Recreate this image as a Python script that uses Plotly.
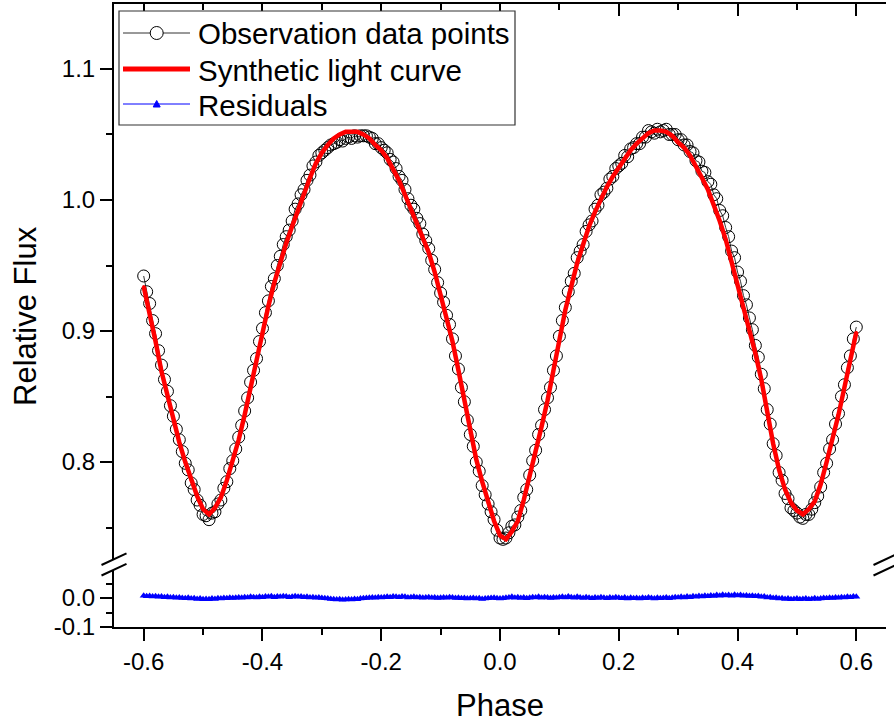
import plotly.graph_objects as go

# ---------------- data ----------------
synth_phase = [
    -0.60, -0.59, -0.58, -0.57, -0.56, -0.55, -0.54, -0.53, -0.52, -0.51,
    -0.50, -0.49, -0.48, -0.47, -0.46, -0.45, -0.44, -0.43, -0.42, -0.41,
    -0.40, -0.39, -0.38, -0.37, -0.36, -0.35, -0.34, -0.33, -0.32, -0.31,
    -0.30, -0.29, -0.28, -0.27, -0.26, -0.25, -0.24, -0.23, -0.22, -0.21,
    -0.20, -0.19, -0.18, -0.17, -0.16, -0.15, -0.14, -0.13, -0.12, -0.11,
    -0.10, -0.09, -0.08, -0.07, -0.06, -0.05, -0.04, -0.03, -0.02, -0.01,
    0.00, 0.01, 0.02, 0.03, 0.04, 0.05, 0.06, 0.07, 0.08, 0.09,
    0.10, 0.11, 0.12, 0.13, 0.14, 0.15, 0.16, 0.17, 0.18, 0.19,
    0.20, 0.21, 0.22, 0.23, 0.24, 0.25, 0.26, 0.27, 0.28, 0.29,
    0.30, 0.31, 0.32, 0.33, 0.34, 0.35, 0.36, 0.37, 0.38, 0.39,
    0.40, 0.41, 0.42, 0.43, 0.44, 0.45, 0.46, 0.47, 0.48, 0.49,
    0.50, 0.51, 0.52, 0.53, 0.54, 0.55, 0.56, 0.57, 0.58, 0.59,
    0.60,
]
synth_flux = [
    0.934, 0.914, 0.892, 0.869, 0.850, 0.832, 0.815, 0.800, 0.786, 0.774,
    0.764, 0.760, 0.765, 0.773, 0.786, 0.801, 0.817, 0.836, 0.857, 0.877,
    0.899, 0.919, 0.937, 0.953, 0.967, 0.980, 0.993, 1.005, 1.017, 1.028,
    1.036, 1.042, 1.047, 1.050, 1.052, 1.052, 1.052, 1.050, 1.047, 1.042,
    1.038, 1.032, 1.024, 1.015, 1.004, 0.993, 0.984, 0.973, 0.960, 0.945,
    0.928, 0.911, 0.892, 0.870, 0.846, 0.822, 0.802, 0.785, 0.769, 0.755,
    0.744, 0.741, 0.747, 0.755, 0.771, 0.789, 0.807, 0.827, 0.847, 0.868,
    0.893, 0.916, 0.935, 0.952, 0.966, 0.980, 0.991, 1.001, 1.010, 1.018,
    1.025, 1.032, 1.038, 1.043, 1.047, 1.051, 1.053, 1.053, 1.052, 1.049,
    1.044, 1.040, 1.034, 1.026, 1.017, 1.008, 0.997, 0.984, 0.970, 0.953,
    0.936, 0.919, 0.903, 0.883, 0.863, 0.838, 0.814, 0.794, 0.779, 0.769,
    0.763, 0.760, 0.764, 0.770, 0.783, 0.800, 0.817, 0.836, 0.857, 0.878,
    0.899,
]

obs_phase = [
    -0.600, -0.595, -0.590, -0.585, -0.580, -0.575, -0.570, -0.565, -0.560, -0.555,
    -0.550, -0.545, -0.540, -0.535, -0.530, -0.525, -0.520, -0.515, -0.510, -0.505,
    -0.500, -0.495, -0.490, -0.485, -0.480, -0.475, -0.470, -0.465, -0.460, -0.455,
    -0.450, -0.445, -0.440, -0.435, -0.430, -0.425, -0.420, -0.415, -0.410, -0.405,
    -0.400, -0.395, -0.390, -0.385, -0.380, -0.375, -0.370, -0.365, -0.360, -0.355,
    -0.350, -0.345, -0.340, -0.335, -0.330, -0.325, -0.320, -0.315, -0.310, -0.305,
    -0.300, -0.295, -0.290, -0.285, -0.280, -0.275, -0.270, -0.265, -0.260, -0.255,
    -0.250, -0.245, -0.240, -0.235, -0.230, -0.225, -0.220, -0.215, -0.210, -0.205,
    -0.200, -0.195, -0.190, -0.185, -0.180, -0.175, -0.170, -0.165, -0.160, -0.155,
    -0.150, -0.145, -0.140, -0.135, -0.130, -0.125, -0.120, -0.115, -0.110, -0.105,
    -0.100, -0.095, -0.090, -0.085, -0.080, -0.075, -0.070, -0.065, -0.060, -0.055,
    -0.050, -0.045, -0.040, -0.035, -0.030, -0.025, -0.020, -0.015, -0.010, -0.005,
    0.000, 0.005, 0.010, 0.015, 0.020, 0.025, 0.030, 0.035, 0.040, 0.045,
    0.050, 0.055, 0.060, 0.065, 0.070, 0.075, 0.080, 0.085, 0.090, 0.095,
    0.100, 0.105, 0.110, 0.115, 0.120, 0.125, 0.130, 0.135, 0.140, 0.145,
    0.150, 0.155, 0.160, 0.165, 0.170, 0.175, 0.180, 0.185, 0.190, 0.195,
    0.200, 0.205, 0.210, 0.215, 0.220, 0.225, 0.230, 0.235, 0.240, 0.245,
    0.250, 0.255, 0.260, 0.265, 0.270, 0.275, 0.280, 0.285, 0.290, 0.295,
    0.300, 0.305, 0.310, 0.315, 0.320, 0.325, 0.330, 0.335, 0.340, 0.345,
    0.350, 0.355, 0.360, 0.365, 0.370, 0.375, 0.380, 0.385, 0.390, 0.395,
    0.400, 0.405, 0.410, 0.415, 0.420, 0.425, 0.430, 0.435, 0.440, 0.445,
    0.450, 0.455, 0.460, 0.465, 0.470, 0.475, 0.480, 0.485, 0.490, 0.495,
    0.500, 0.505, 0.510, 0.515, 0.520, 0.525, 0.530, 0.535, 0.540, 0.545,
    0.550, 0.555, 0.560, 0.565, 0.570, 0.575, 0.580, 0.585, 0.590, 0.595,
    0.600,
]
obs_flux = [
    0.942, 0.930, 0.921, 0.908, 0.898, 0.885, 0.874, 0.863, 0.854, 0.843,
    0.835, 0.825, 0.817, 0.808, 0.799, 0.794, 0.784, 0.779, 0.771, 0.767,
    0.760, 0.759, 0.756, 0.761, 0.762, 0.768, 0.771, 0.780, 0.785, 0.795,
    0.801, 0.810, 0.819, 0.828, 0.839, 0.849, 0.861, 0.870, 0.879, 0.892,
    0.902, 0.914, 0.923, 0.934, 0.940, 0.950, 0.957, 0.966, 0.972, 0.977,
    0.984, 0.993, 0.997, 1.004, 1.008, 1.015, 1.019, 1.026, 1.029, 1.034,
    1.036, 1.038, 1.040, 1.042, 1.043, 1.044, 1.046, 1.045, 1.047, 1.048,
    1.047, 1.049, 1.048, 1.049, 1.049, 1.049, 1.048, 1.047, 1.043, 1.043,
    1.040, 1.038, 1.036, 1.031, 1.029, 1.024, 1.018, 1.015, 1.008, 1.001,
    0.996, 0.993, 0.986, 0.982, 0.974, 0.969, 0.963, 0.954, 0.947, 0.937,
    0.929, 0.922, 0.912, 0.905, 0.894, 0.881, 0.871, 0.857, 0.846, 0.832,
    0.821, 0.812, 0.800, 0.793, 0.782, 0.775, 0.768, 0.762, 0.756, 0.748,
    0.742, 0.741, 0.742, 0.746, 0.751, 0.752, 0.758, 0.763, 0.773, 0.779,
    0.790, 0.801, 0.809, 0.821, 0.828, 0.840, 0.849, 0.857, 0.870, 0.881,
    0.896, 0.908, 0.918, 0.930, 0.938, 0.944, 0.956, 0.961, 0.966, 0.976,
    0.981, 0.984, 0.993, 0.996, 1.004, 1.006, 1.009, 1.016, 1.018, 1.024,
    1.026, 1.028, 1.034, 1.033, 1.039, 1.040, 1.043, 1.043, 1.048, 1.048,
    1.053, 1.052, 1.051, 1.054, 1.052, 1.053, 1.054, 1.050, 1.050, 1.050,
    1.046, 1.046, 1.042, 1.042, 1.037, 1.036, 1.030, 1.029, 1.022, 1.021,
    1.014, 1.012, 1.004, 1.001, 0.992, 0.988, 0.979, 0.972, 0.961, 0.956,
    0.945, 0.938, 0.927, 0.920, 0.910, 0.901, 0.889, 0.880, 0.867, 0.856,
    0.840, 0.829, 0.814, 0.805, 0.792, 0.786, 0.776, 0.772, 0.765, 0.763,
    0.761, 0.758, 0.757, 0.760, 0.760, 0.764, 0.769, 0.774, 0.781, 0.792,
    0.799, 0.810, 0.817, 0.829, 0.837, 0.850, 0.859, 0.872, 0.881, 0.894,
    0.903,
]
residuals = [
    0.008, 0.006, 0.007, 0.005, 0.006, 0.004, 0.005, 0.003, 0.004, 0.002,
    0.003, 0.001, 0.002, 0.000, -0.001, 0.001, -0.002, -0.001, -0.003, -0.002,
    -0.004, -0.003, -0.004, -0.002, -0.003, -0.001, -0.002, 0.000, -0.001, 0.001,
    0.000, 0.001, 0.002, 0.001, 0.003, 0.002, 0.004, 0.003, 0.002, 0.004,
    0.003, 0.005, 0.004, 0.006, 0.003, 0.005, 0.004, 0.006, 0.005, 0.003,
    0.004, 0.006, 0.004, 0.005, 0.003, 0.004, 0.002, 0.003, 0.001, 0.002,
    0.000, -0.001, -0.002, -0.003, -0.004, -0.005, -0.004, -0.006, -0.005, -0.004,
    -0.005, -0.003, -0.004, -0.002, -0.001, 0.000, 0.001, 0.002, 0.001, 0.003,
    0.002, 0.003, 0.004, 0.003, 0.005, 0.004, 0.003, 0.005, 0.004, 0.002,
    0.003, 0.004, 0.002, 0.003, 0.001, 0.002, 0.003, 0.001, 0.002, 0.000,
    0.001, 0.002, 0.001, 0.003, 0.002, 0.000, 0.001, -0.001, 0.000, -0.002,
    -0.001, 0.000, -0.002, -0.001, -0.003, -0.002, -0.001, 0.000, 0.001, -0.001,
    -0.002, -0.001, 0.001, 0.002, 0.004, 0.001, 0.003, 0.000, 0.002, -0.001,
    0.001, 0.003, 0.002, 0.004, 0.001, 0.003, 0.002, 0.000, 0.002, 0.001,
    0.003, 0.004, 0.002, 0.005, 0.003, 0.001, 0.004, 0.002, 0.000, 0.003,
    0.001, -0.001, 0.002, 0.000, 0.003, 0.001, -0.001, 0.002, 0.000, 0.003,
    0.001, -0.001, 0.002, -0.002, 0.001, -0.001, 0.000, -0.002, 0.001, -0.001,
    0.002, 0.000, -0.002, 0.001, -0.001, 0.000, 0.002, -0.001, 0.001, 0.003,
    0.002, 0.004, 0.002, 0.005, 0.003, 0.006, 0.004, 0.007, 0.005, 0.008,
    0.006, 0.009, 0.007, 0.010, 0.008, 0.011, 0.009, 0.010, 0.008, 0.011,
    0.009, 0.010, 0.008, 0.009, 0.007, 0.008, 0.006, 0.007, 0.004, 0.005,
    0.002, 0.003, 0.000, 0.001, -0.002, -0.001, -0.003, -0.002, -0.004, -0.003,
    -0.002, -0.004, -0.003, -0.002, -0.004, -0.003, -0.001, -0.003, -0.002, 0.000,
    -0.001, 0.001, 0.000, 0.002, 0.001, 0.003, 0.002, 0.004, 0.003, 0.005,
    0.004,
]

series_names = ["Observation data points", "Synthetic light curve", "Residuals"]
x_tick_vals = [-0.6, -0.4, -0.2, 0.0, 0.2, 0.4, 0.6]
x_tick_text = ["-0.6", "-0.4", "-0.2", "0.0", "0.2", "0.4", "0.6"]
y_upper_vals = [0.8, 0.9, 1.0, 1.1]
y_upper_text = ["0.8", "0.9", "1.0", "1.1"]
y_lower_vals = [-0.1, 0.0]
y_lower_text = ["-0.1", "0.0"]

# ---------------- figure ----------------
FONT = "Liberation Sans, Arial, sans-serif"
OBS_COLOR, FIT_COLOR, RES_COLOR = "black", "#ff0000", "#0000ff"
fig = go.Figure()

fig.add_trace(go.Scatter(
    x=obs_phase, y=obs_flux, xaxis="x2", yaxis="y",
    mode="lines+markers", name=series_names[0],
    line=dict(color="#333333", width=1),
    marker=dict(symbol="circle-open", size=12, color=OBS_COLOR, line=dict(width=1, color=OBS_COLOR)),
))
fig.add_trace(go.Scatter(
    x=synth_phase, y=synth_flux, xaxis="x2", yaxis="y",
    mode="lines+markers", name=series_names[1],
    line=dict(color=FIT_COLOR, width=4.5),
    marker=dict(symbol="circle", size=3, color=FIT_COLOR),
))
fig.add_trace(go.Scatter(
    x=obs_phase, y=residuals, xaxis="x", yaxis="y2",
    mode="lines+markers", name=series_names[2],
    line=dict(color=RES_COLOR, width=2),
    marker=dict(symbol="triangle-up", size=7, color=RES_COLOR),
))

XR = [-0.65, 0.65]
UP_DOM = [0.1075, 1.0]
LO_DOM = [0.0, 0.0915]
axcommon = dict(showgrid=False, zeroline=False, showline=True, linecolor="black",
                linewidth=2, tickcolor="black", tickwidth=2,
                tickfont=dict(family=FONT, size=24, color="black"))


def minor(direction, step):
    return dict(tickmode="linear", tick0=0, dtick=step, ticks=direction, ticklen=6,
                tickwidth=2, tickcolor="black")


fig.update_layout(
    width=894, height=726,
    margin=dict(l=114, r=8, t=4, b=99),
    paper_bgcolor="white", plot_bgcolor="white",
    font=dict(family=FONT, color="black"),
    showlegend=False,
    xaxis=dict(domain=[0, 1], range=XR, anchor="y2", side="bottom",
               tickmode="array", tickvals=x_tick_vals, ticktext=x_tick_text,
               ticks="outside", ticklen=12, minor=minor("outside", 0.1),
               title=dict(text="Phase", font=dict(family=FONT, size=31, color="black"), standoff=21),
               **axcommon),
    xaxis2=dict(domain=[0, 1], range=XR, anchor="y", side="top", overlaying="x",
                tickmode="array", tickvals=x_tick_vals, showticklabels=False,
                ticks="inside", ticklen=12, minor=minor("inside", 0.1), **axcommon),
    yaxis=dict(domain=UP_DOM, range=[0.7252, 1.1496], anchor="x2", side="left",
               tickmode="array", tickvals=y_upper_vals, ticktext=y_upper_text,
               ticks="outside", ticklen=12, minor=minor("outside", 0.05), **axcommon),
    yaxis2=dict(domain=LO_DOM, range=[-0.1, 0.0966], anchor="x", side="left",
                tickmode="array", tickvals=y_lower_vals, ticktext=y_lower_text,
                ticks="outside", ticklen=12, minor=minor("outside", 0.05), **axcommon),
    yaxis3=dict(domain=UP_DOM, range=[0.7252, 1.1496], anchor="x2", side="right", overlaying="y",
                tickmode="array", tickvals=y_upper_vals, showticklabels=False,
                ticks="inside", ticklen=12, minor=minor("inside", 0.05), **axcommon),
    yaxis4=dict(domain=LO_DOM, range=[-0.1, 0.0966], anchor="x", side="right", overlaying="y2",
                tickmode="array", tickvals=y_lower_vals, showticklabels=False,
                ticks="inside", ticklen=12, minor=minor("inside", 0.05), **axcommon),
)

# pixel -> paper helpers (plot area: x 114..886, y 4..627)
W, H = 772.0, 623.0


def px(x):
    return (x - 114) / W


def py(y):
    return (627 - y) / H


# y-axis title centred on the whole (broken) axis
fig.add_annotation(text="Relative Flux", xref="paper", yref="paper", x=px(25), y=py(316),
                   textangle=-90, showarrow=False, xanchor="center", yanchor="middle",
                   font=dict(family=FONT, size=31, color="black"))

# axis-break marks
for xc in (114, 886):
    for (ya, yb) in ((565, 553.3), (575.5, 563.8)):
        fig.add_shape(type="line", xref="paper", yref="paper",
                      x0=px(xc - 12.5), y0=py(ya), x1=px(xc + 12.5), y1=py(yb),
                      line=dict(color="black", width=2))

# legend box (drawn as shapes + text, Origin style)
fig.add_shape(type="rect", xref="paper", yref="paper", layer="above",
              x0=px(119), y0=py(125), x1=px(515), y1=py(11),
              line=dict(color="#333333", width=1.2), fillcolor="white")
rows = [33, 69, 104]
x_l0, x_l1, x_c = 123, 190, 156.7
# observation entry
fig.add_shape(type="line", xref="paper", yref="paper", layer="above",
              x0=px(x_l0), y0=py(rows[0]), x1=px(x_l1), y1=py(rows[0]),
              line=dict(color="#333333", width=1))
fig.add_shape(type="circle", xref="paper", yref="paper", layer="above",
              x0=px(x_c - 6.5), y0=py(rows[0] + 6.5), x1=px(x_c + 6.5), y1=py(rows[0] - 6.5),
              line=dict(color=OBS_COLOR, width=1), fillcolor="white")
# synthetic entry
fig.add_shape(type="line", xref="paper", yref="paper", layer="above",
              x0=px(x_l0), y0=py(rows[1]), x1=px(x_l1), y1=py(rows[1]),
              line=dict(color=FIT_COLOR, width=5))
# residual entry
fig.add_shape(type="line", xref="paper", yref="paper", layer="above",
              x0=px(x_l0), y0=py(rows[2]), x1=px(x_l1), y1=py(rows[2]),
              line=dict(color=RES_COLOR, width=1))
tri = "M {:.5f},{:.5f} L {:.5f},{:.5f} L {:.5f},{:.5f} Z".format(
    px(x_c - 3.5), py(rows[2] + 3), px(x_c + 3.5), py(rows[2] + 3), px(x_c), py(rows[2] - 3.5))
fig.add_shape(type="path", xref="paper", yref="paper", layer="above", path=tri,
              line=dict(color=RES_COLOR, width=1), fillcolor=RES_COLOR)
for name, r in zip(series_names, rows):
    fig.add_annotation(text=name, xref="paper", yref="paper", x=px(196), y=py(r + 1),
                       xanchor="left", yanchor="middle", showarrow=False,
                       font=dict(family=FONT, size=29.5, color="black"))

fig.write_html("out.html")
